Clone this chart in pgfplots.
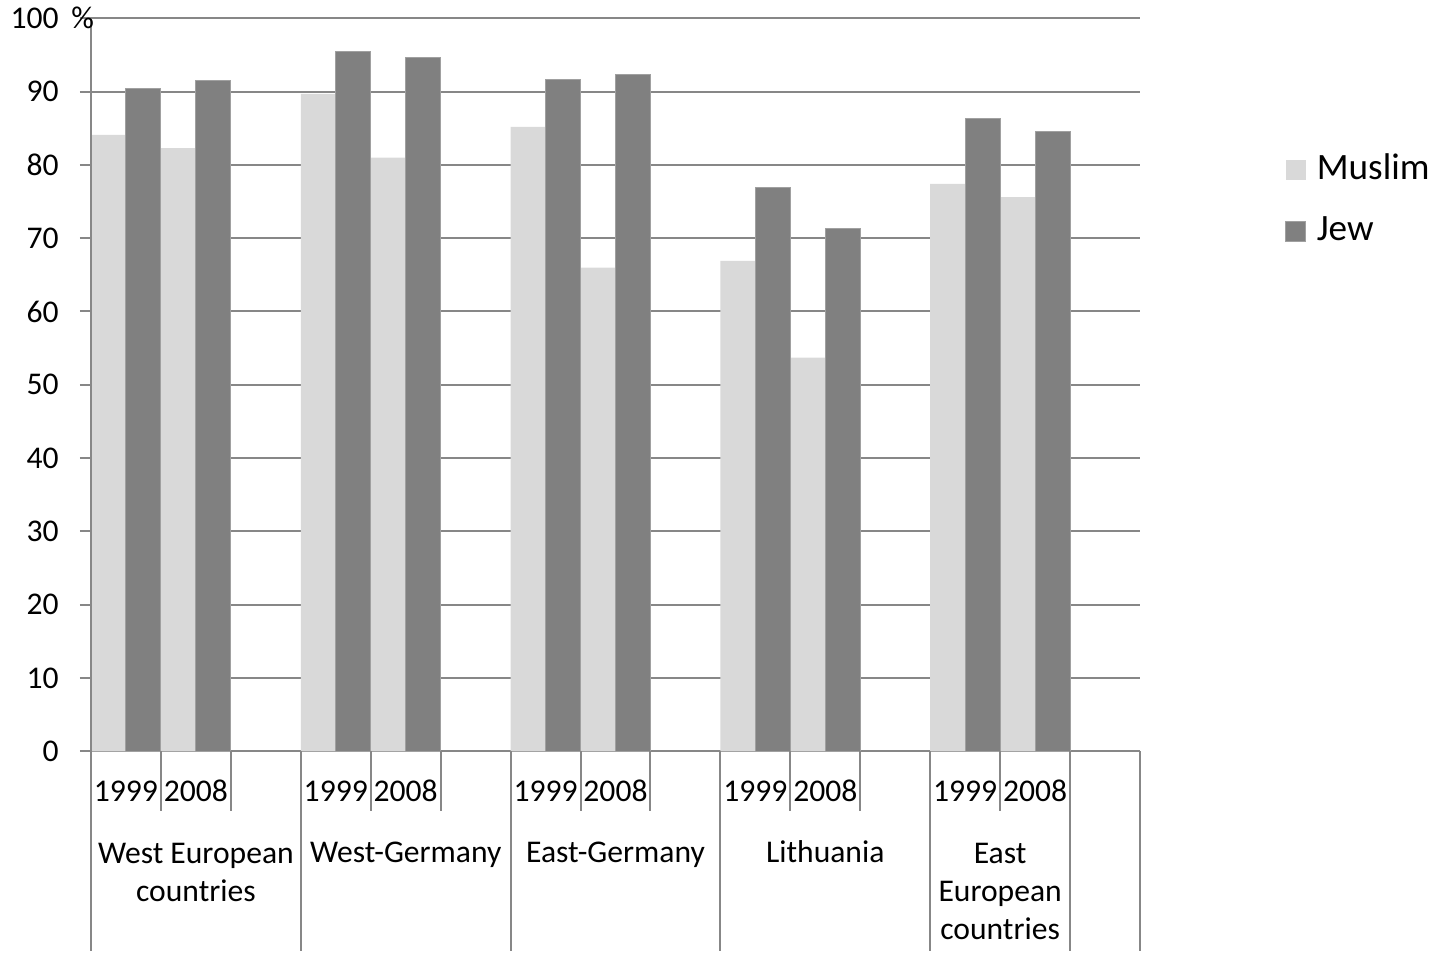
\documentclass[border=0pt]{standalone}
\usepackage{pgfplots}
\pgfplotsset{compat=1.18}
\usepackage{fontspec}
\setmainfont{Carlito}

\definecolor{muslimfill}{HTML}{D9D9D9}
\definecolor{jewfill}{HTML}{808080}
\definecolor{jewedge}{HTML}{A0A0A0}
\definecolor{gridgray}{HTML}{878787}

\newcommand{\axfont}{\fontsize{15.8}{19}\selectfont}

\begin{document}
\begin{tikzpicture}
\begin{axis}[
  scale only axis,
  width=524.5pt, height=366.5pt,
  xmin=0, xmax=15, ymin=0, ymax=100,
  clip=false,
  axis line style={draw=none},
  ymajorgrids,
  grid style={gridgray, line width=1pt},
  ytick={0,10,...,100},
  ytick pos=left,
  tick align=outside,
  major tick length=5.5pt,
  ytick style={gridgray, line width=1pt},
  yticklabel style={font=\axfont, inner sep=0pt, xshift=-10.5pt},
  /pgf/number format/assume math mode=true,
  xtick={0.5,1.5,3.5,4.5,6.5,7.5,9.5,10.5,12.5,13.5},
  xticklabels={1999,2008,1999,2008,1999,2008,1999,2008,1999,2008},
  xtick style={draw=none},
  xticklabel style={font=\axfont, anchor=base, inner sep=0pt, yshift=-19.7pt},
  legend image code/.code={\fill[#1] (0pt,-5pt) rectangle (10pt,5pt);
                           \path[draw=none, fill=none] (10pt,0pt) rectangle (15.5pt,0.1pt);},
  legend style={at={(1.1382,0.7514)}, anchor=west, draw=none, fill=none,
    inner sep=0pt, row sep=15.5pt, font=\fontsize{18.6}{22}\selectfont,
    nodes={inner sep=0pt, text height=12pt, text depth=3pt}},
  legend cell align=left,
]
% Muslim bars: left half of each year slot
\addplot[ybar, bar width=0.5, bar shift=0pt, fill=muslimfill, draw=none]
  coordinates {(0.25,84.1) (1.25,82.3) (3.25,89.7) (4.25,81.0) (6.25,85.2)
               (7.25,66.0) (9.25,66.9) (10.25,53.7) (12.25,77.4) (13.25,75.6)};
% Jew bars: right half of each year slot
\addplot[ybar, bar width=0.5, bar shift=0pt, fill=jewfill, draw=jewedge, line width=0.5pt]
  coordinates {(0.75,90.4) (1.75,91.5) (3.75,95.5) (4.75,94.6) (6.75,91.7)
               (7.75,92.4) (9.75,76.9) (10.75,71.3) (12.75,86.3) (13.75,84.5)};
\legend{Muslim,Jew}

% left axis line, running down through the category rows
\draw[gridgray, line width=1pt] (axis cs:0,100) -- (axis cs:0,-27.3);
% separators between years
\pgfplotsinvokeforeach{1,2,4,5,7,8,10,11,13}{
  \draw[gridgray, line width=1pt] (axis cs:#1,0) -- (axis cs:#1,-8.14);
}
% separators between countries
\pgfplotsinvokeforeach{3,6,9,12,14,15}{
  \draw[gridgray, line width=1pt] (axis cs:#1,0) -- (axis cs:#1,-27.3);
}

% country names (anchored at the baseline of their last line)
\node[font=\axfont, align=center, anchor=base] at (axis cs:1.5,-20.51) {West European\\countries};
\node[font=\axfont, align=center, anchor=base] at (axis cs:4.5,-15.23) {West-Germany};
\node[font=\axfont, align=center, anchor=base] at (axis cs:7.5,-15.23) {East-Germany};
\node[font=\axfont, align=center, anchor=base] at (axis cs:10.5,-15.23) {Lithuania};
\node[font=\axfont, align=center, anchor=base] at (axis cs:13,-25.64) {East\\European\\countries};

% unit beside the top tick label
\node[font=\axfont, anchor=base west, inner sep=0pt] at (axis cs:-0.285,98.6) {\%};
\end{axis}
\pgfresetboundingbox
\useasboundingbox (-45.5pt,-103.85pt) rectangle (675pt,375.65pt);
\end{tikzpicture}
\end{document}
